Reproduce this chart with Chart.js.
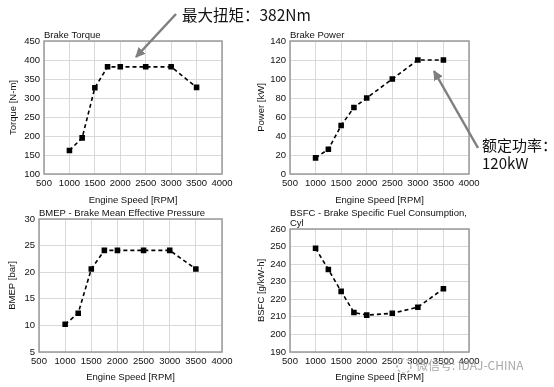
<!DOCTYPE html>
<html>
<head>
<meta charset="utf-8">
<script src="https://cdn.jsdelivr.net/npm/chart.js@4.4.1/dist/chart.umd.min.js"></script>
<style>
  body { margin: 0; background: #fff; }
  #wrap { position: relative; width: 554px; height: 387px; overflow: hidden; }
  #wrap canvas, #wrap svg { position: absolute; left: 0; top: 0; }
</style>
</head>
<body>
<div id="wrap">
  <canvas id="c1" width="554" height="387"></canvas>
  <canvas id="c2" width="554" height="387"></canvas>
  <canvas id="c3" width="554" height="387"></canvas>
  <canvas id="c4" width="554" height="387"></canvas>
  <svg width="554" height="387" font-family="'Noto Sans CJK SC', 'Noto Sans', sans-serif">
    <defs>
      <marker id="head" viewBox="0 0 10 10" refX="9" refY="5" markerWidth="4" markerHeight="4" orient="auto">
        <path d="M0,0 L10,5 L0,10 z" fill="#7f7f7f"/>
      </marker>
    </defs>
    <line x1="176" y1="14" x2="136" y2="57" stroke="#7f7f7f" stroke-width="2.5" marker-end="url(#head)"/>
    <text x="182" y="21" font-size="15.5" fill="#111">最大扭矩：382Nm</text>
    <line x1="478" y1="148" x2="434" y2="71" stroke="#7f7f7f" stroke-width="2.5" marker-end="url(#head)"/>
    <text x="482" y="151" font-size="15" fill="#111">额定功率：</text>
    <text x="482" y="169" font-size="15" fill="#111">120kW</text>
    <circle cx="404" cy="366" r="7" fill="none" stroke="#bbb" stroke-width="1.5" stroke-dasharray="3,2"/>
    <text x="416" y="370" font-size="12" fill="#999" fill-opacity="0.85">微信号: IDAJ-CHINA</text>
  </svg>
</div>
<script>
// engine speed sweep, shared by all four panels
const rpm = [1000, 1250, 1500, 1750, 2000, 2500, 3000, 3500]
const torque = [162, 195, 327, 382, 382, 382, 382, 328]
const power = [17, 26, 51, 70, 80, 100, 120, 120]
const bmep = [10.2, 12.3, 20.6, 24.1, 24.1, 24.1, 24.1, 20.6]
const bsfc = [249, 237, 224.5, 212.5, 211, 212, 215.5, 226]

const xTicks = [500, 1000, 1500, 2000, 2500, 3000, 3500, 4000]
const xTitle = "Engine Speed [RPM]"

const FONT = "'Liberation Sans', Arial, sans-serif"
const GRID = "#d9d9d9"
const FRAME = "#9a9a9a"

// title above the plot box + darker frame around it
const panelDeco = {
  id: "panelDeco",
  afterDraw(chart, args, opts) {
    const { ctx, chartArea: a } = chart
    ctx.save()
    ctx.strokeStyle = FRAME
    ctx.lineWidth = 1.5
    ctx.strokeRect(a.left, a.top, a.right - a.left, a.bottom - a.top)
    ctx.fillStyle = "#111"
    ctx.font = "9.5px " + FONT
    ctx.textAlign = "left"
    ctx.textBaseline = "bottom"
    const lines = opts.lines || []
    lines.forEach((t, i) => {
      ctx.fillText(t, a.left, a.top - 1 - (lines.length - 1 - i) * 10)
    })
    ctx.restore()
  }
}

// p: wanted plot box + axis title positions
function panel(id, values, yMin, yMax, yStep, yTitle, titleLines, p) {
  const padL = p.yTitleX - 6
  const yW = p.left - padL
  const padB = 387 - p.xTitleY - 6
  const xH = 387 - padB - p.bottom
  new Chart(document.getElementById(id), {
    type: "line",
    data: {
      datasets: [{
        data: rpm.map((r, i) => ({ x: r, y: values[i] })),
        borderColor: "#000",
        borderWidth: 1.6,
        borderDash: [4, 3],
        backgroundColor: "#000",
        pointStyle: "rect",
        pointRadius: 2.8,
        fill: false,
        tension: 0
      }]
    },
    options: {
      responsive: false,
      animation: false,
      devicePixelRatio: 1,
      layout: { padding: { left: padL, top: p.top, right: 554 - p.right, bottom: padB } },
      plugins: {
        legend: { display: false },
        tooltip: { enabled: false },
        panelDeco: { lines: titleLines }
      },
      scales: {
        x: {
          type: "linear",
          min: 500, max: 4000,
          afterBuildTicks: s => { s.ticks = xTicks.map(v => ({ value: v })) },
          afterFit: s => { s.height = xH },
          grid: { color: GRID, drawTicks: false },
          border: { display: false },
          ticks: {
            color: "#111", font: { family: FONT, size: 9.5 }, padding: 4,
            maxRotation: 0, autoSkip: false, callback: v => String(v)
          },
          title: { display: true, text: xTitle, color: "#111", font: { family: FONT, size: 9.5 }, padding: 0 }
        },
        y: {
          min: yMin, max: yMax,
          ticks: { stepSize: yStep, color: "#111", font: { family: FONT, size: 9.5 }, padding: 4 },
          afterFit: s => { s.width = yW },
          grid: { color: GRID, drawTicks: false },
          border: { display: false },
          title: { display: true, text: yTitle, color: "#111", font: { family: FONT, size: 9.5 }, padding: 0 }
        }
      }
    },
    plugins: [panelDeco]
  })
}

panel("c1", torque, 100, 450, 50, "Torque [N-m]", ["Brake Torque"],
  { left: 44, right: 222, top: 41, bottom: 174, yTitleX: 14, xTitleY: 200 })
panel("c2", power, 0, 140, 20, "Power [kW]", ["Brake Power"],
  { left: 290, right: 469, top: 41, bottom: 174, yTitleX: 262, xTitleY: 200 })
panel("c3", bmep, 5, 30, 5, "BMEP [bar]", ["BMEP - Brake Mean Effective Pressure"],
  { left: 39, right: 222, top: 219, bottom: 352, yTitleX: 13, xTitleY: 377 })
panel("c4", bsfc, 190, 260, 10, "BSFC [g/kW-h]", ["BSFC - Brake Specific Fuel Consumption,", "Cyl"],
  { left: 290, right: 469, top: 229, bottom: 352, yTitleX: 262, xTitleY: 377 })
</script>
</body>
</html>
